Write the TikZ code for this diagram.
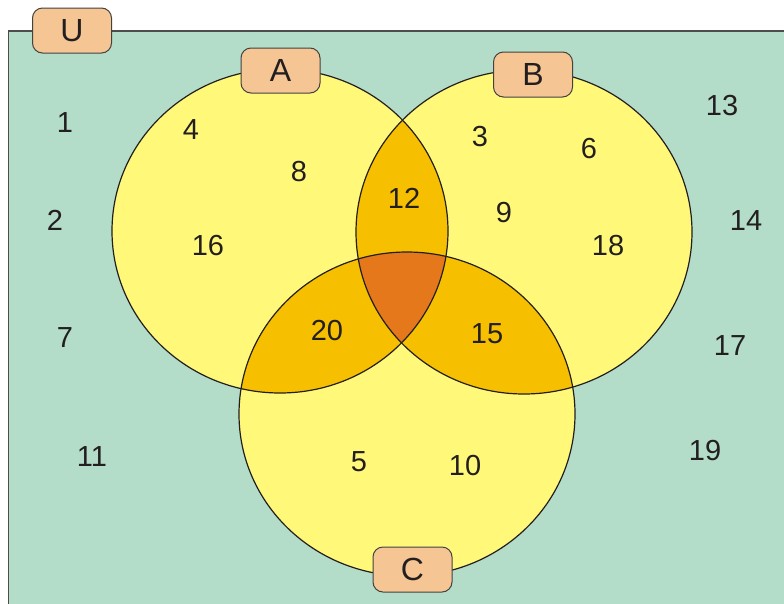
\documentclass[tikz,border=0pt]{standalone}
\usepackage{fontspec}
\setmainfont{Liberation Sans}
\definecolor{bggreen}{RGB}{179,220,201}
\definecolor{vyellow}{RGB}{255,248,120}
\definecolor{vgold}{RGB}{246,192,0}
\definecolor{vorange}{RGB}{228,120,26}
\definecolor{tagfill}{RGB}{245,197,148}
\definecolor{inkc}{RGB}{35,31,32}
\tikzset{
  num/.style={text=inkc,font=\fontsize{29}{34}\selectfont,inner sep=0pt},
  tag/.style={draw=inkc!85,line width=1pt,fill=tagfill,rounded corners=10pt,minimum width=79pt,minimum height=45pt,inner sep=0pt,text=inkc,font=\fontsize{32}{36}\selectfont},
  rim/.style={draw=inkc,line width=1.2pt}
}
\begin{document}
\begin{tikzpicture}[x=1pt,y=-1pt]
\useasboundingbox (0,0) rectangle (784,603);
% universe
\fill[bggreen] (8.5,31) rectangle (790,610);
\draw[inkc!80,line width=1.5pt] (8.5,610) -- (8.5,31) -- (790,31);
% circles
\coordinate (ca) at (280,231);
\coordinate (cb) at (524,232);
\coordinate (cc) at (407,414);
\def\rx{168pt}\def\ry{162pt}
\fill[vyellow] (ca) ellipse [x radius=\rx, y radius=\ry];
\fill[vyellow] (cb) ellipse [x radius=\rx, y radius=\ry];
\fill[vyellow] (cc) ellipse [x radius=\rx, y radius=\ry];
\begin{scope}
  \clip (ca) ellipse [x radius=\rx, y radius=\ry];
  \fill[vgold] (cb) ellipse [x radius=\rx, y radius=\ry];
  \fill[vgold] (cc) ellipse [x radius=\rx, y radius=\ry];
\end{scope}
\begin{scope}
  \clip (cb) ellipse [x radius=\rx, y radius=\ry];
  \fill[vgold] (cc) ellipse [x radius=\rx, y radius=\ry];
\end{scope}
\begin{scope}
  \clip (ca) ellipse [x radius=\rx, y radius=\ry];
  \clip (cb) ellipse [x radius=\rx, y radius=\ry];
  \fill[vorange] (cc) ellipse [x radius=\rx, y radius=\ry];
\end{scope}
\draw[rim] (ca) ellipse [x radius=\rx, y radius=\ry];
\draw[rim] (cb) ellipse [x radius=\rx, y radius=\ry];
\draw[rim] (cc) ellipse [x radius=\rx, y radius=\ry];
% labels
\node[tag] (tU) at (72,30.5) {U};
\node[tag] (tA) at (280.5,70.5) {A};
\node[tag] (tB) at (533,74.5) {B};
\node[tag] (tC) at (412.5,569.5) {C};
% numbers
\node[num] (n1) at (65,123) {1};
\node[num] (n2) at (55,220) {2};
\node[num] (n7) at (65,338) {7};
\node[num] (n11) at (92,457) {11};
\node[num] (n4) at (191,130) {4};
\node[num] (n8) at (299,172) {8};
\node[num] (n16) at (208,246) {16};
\node[num] (n12) at (404,198) {12};
\node[num] (n3) at (480,137) {3};
\node[num] (n6) at (589,149) {6};
\node[num] (n9) at (504,213) {9};
\node[num] (n18) at (608,246) {18};
\node[num] (n20) at (327,331) {20};
\node[num] (n15) at (487,334) {15};
\node[num] (n5) at (359,462) {5};
\node[num] (n10) at (465,466) {10};
\node[num] (n13) at (722,106) {13};
\node[num] (n14) at (746,221) {14};
\node[num] (n17) at (730,346) {17};
\node[num] (n19) at (705,451) {19};
\end{tikzpicture}
\end{document}
